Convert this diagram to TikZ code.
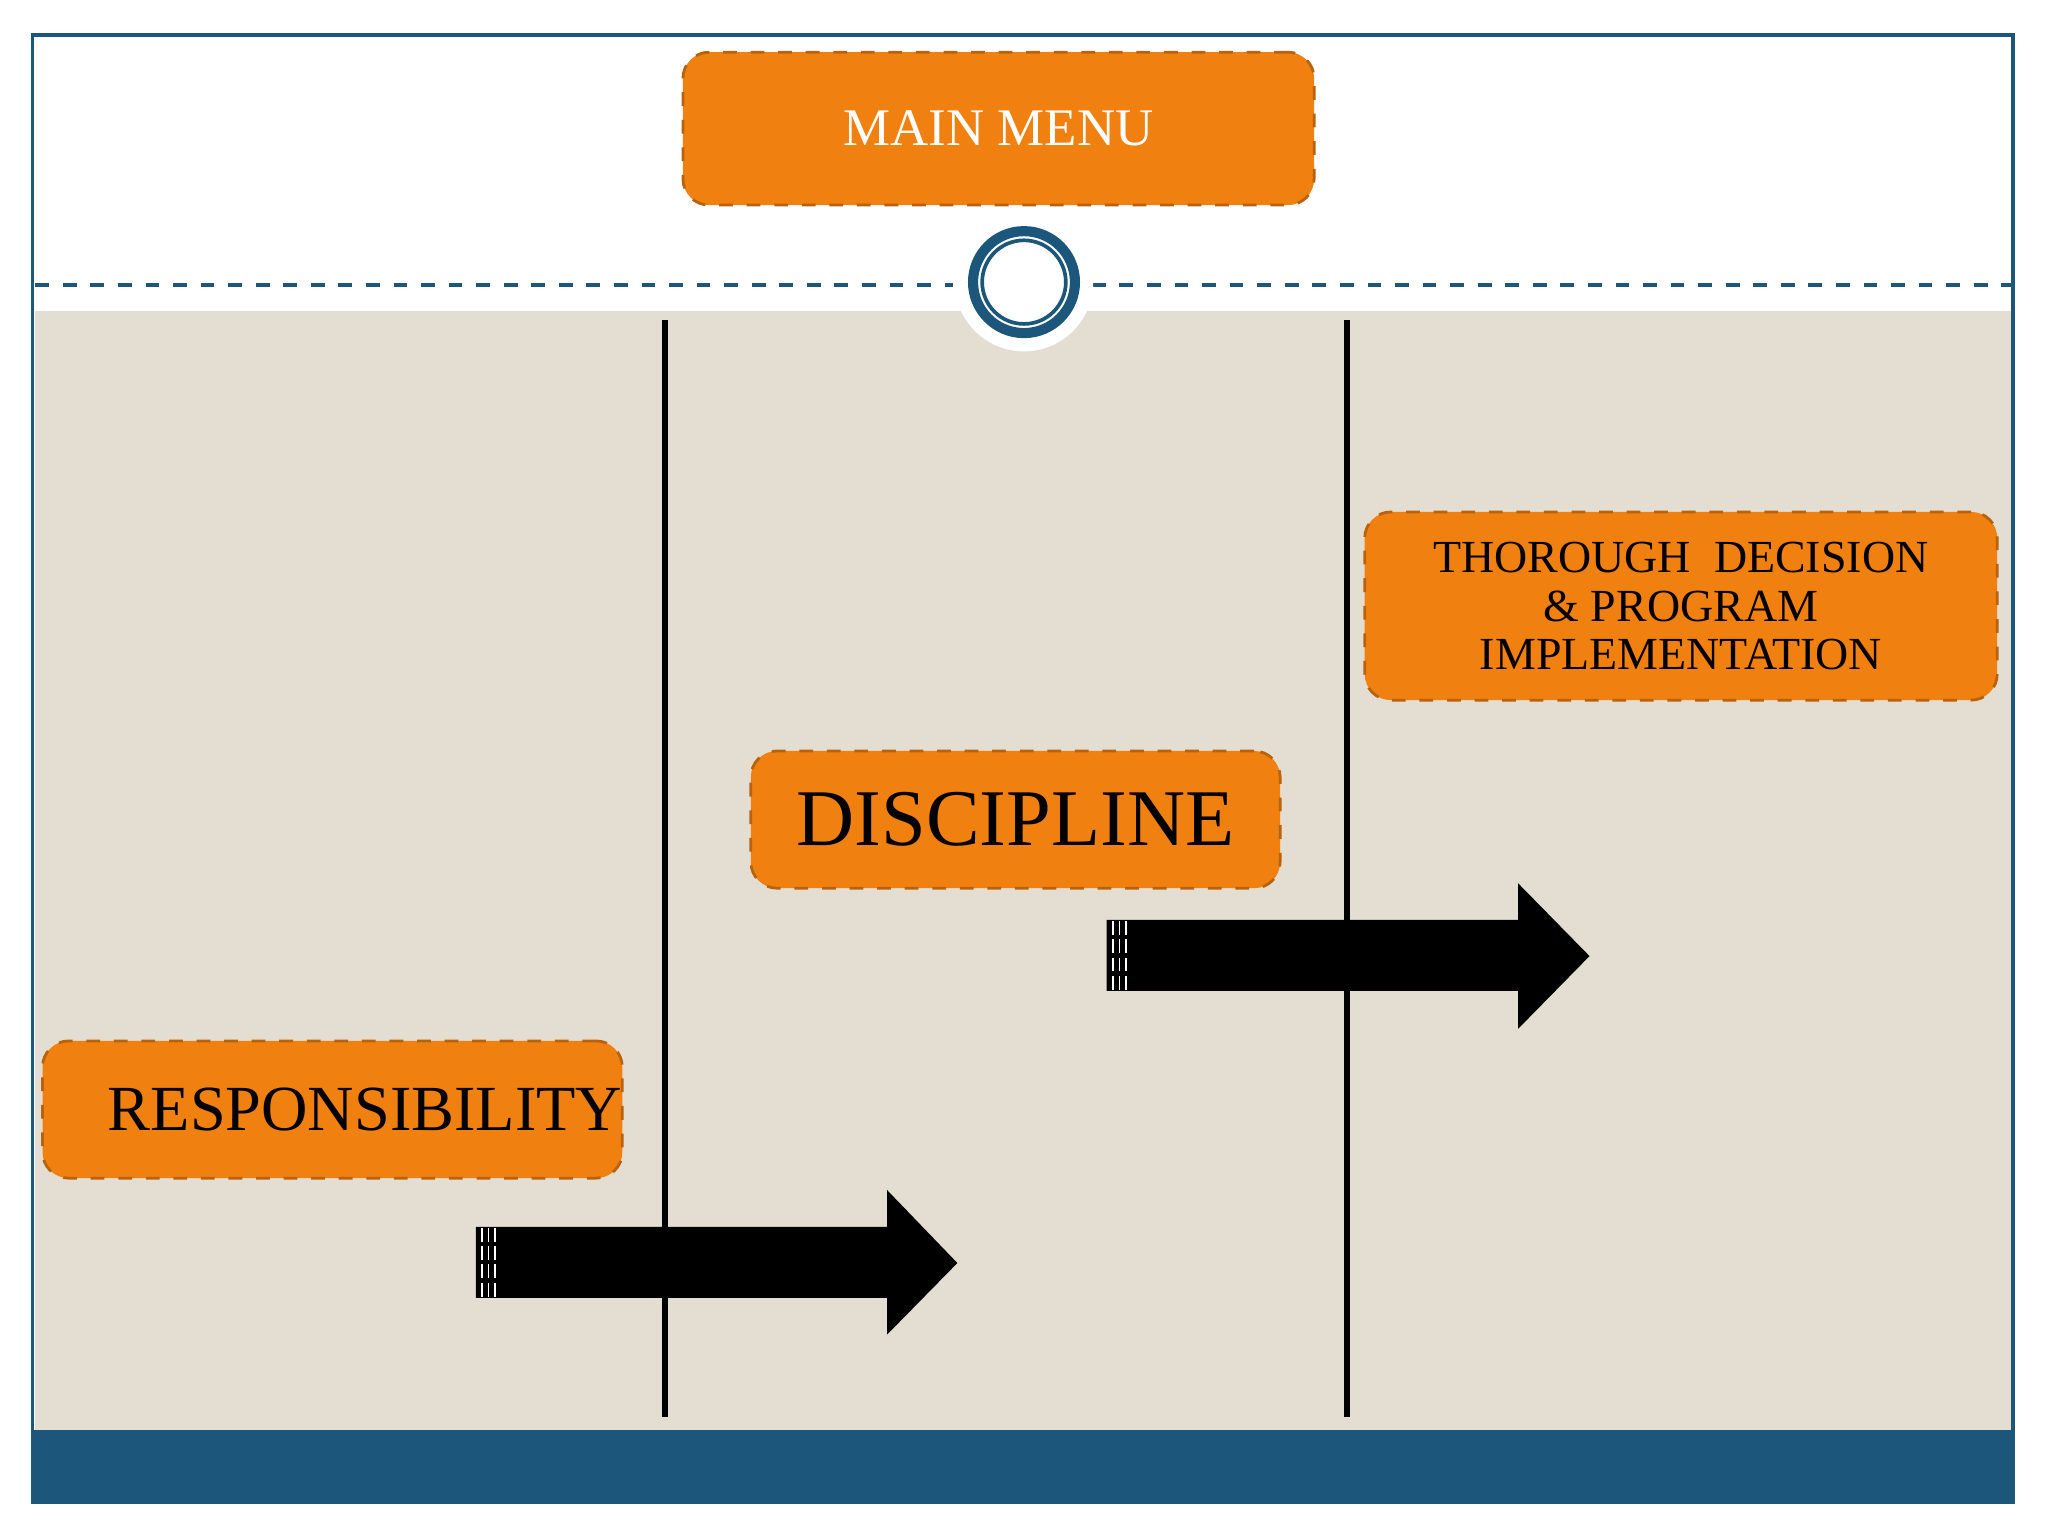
\documentclass[tikz,border=0pt]{standalone}
\usepackage{fontspec}
\setmainfont{Liberation Serif}
\begin{document}
\begin{tikzpicture}[x=0.01cm,y=-0.01cm]
\definecolor{navy}{HTML}{1C577B}
\definecolor{beige}{HTML}{E3DED1}
\definecolor{org}{HTML}{F0800F}
\definecolor{orgd}{HTML}{B8620E}
\tikzset{obox/.style={fill=org,draw=orgd,dashed,rounded corners=0.2cm,line width=0.6pt,inner sep=0pt,align=center},
 vline/.style={line width=1.3pt,black},
 bigarrow/.style={fill=black,draw=black}}
\useasboundingbox (0,0) rectangle (1568,1176);
\fill[white] (0,0) rectangle (1568,1176);
\fill[beige] (27,238) rectangle (1540,1095);
\fill[navy] (25,1095) rectangle (1541,1150);
\draw[navy,line width=0.8pt] (25,27) rectangle (1541,1150);
\coordinate (d1) at (27,218); \coordinate (d2) at (730,218);
\coordinate (d3) at (836,218); \coordinate (d4) at (1540,218);
\draw[navy,dashed,line width=0.8pt] (d1)--(d2) (d3)--(d4);
\node[circle,fill=white,minimum size=1.06cm,inner sep=0pt] (bump) at (784,216) {};
\node[circle,draw=navy,line width=2.2pt,minimum size=0.78cm,inner sep=0pt] (ring) at (784,216) {};
\node[circle,draw=navy,line width=0.8pt,minimum size=0.64cm,inner sep=0pt] (ring2) at (784,216) {};
\coordinate (v1t) at (509,245); \coordinate (v1b) at (509,1085);
\coordinate (v2t) at (1031,245); \coordinate (v2b) at (1031,1085);
\draw[vline] (v1t)--(v1b); \draw[vline] (v2t)--(v2b);
\node[obox,minimum width=4.83cm,minimum height=1.17cm,text=white,font=\fontsize{11.5}{13}\selectfont] (menu) at (764.5,98.5) {MAIN MENU};
\node[obox,minimum width=4.05cm,minimum height=1.05cm,font=\fontsize{17.5}{20}\selectfont] (disc) at (777.5,627.5) {DISCIPLINE};
\node[obox,minimum width=4.05cm,minimum height=1.05cm,font=\fontsize{14}{17}\selectfont] (resp) at (254.5,849.5) {\hspace{0.5cm}RESPONSIBILITY};
\node[obox,minimum width=4.84cm,minimum height=1.44cm,font=\fontsize{10}{10.5}\selectfont] (thor) at (1287,464) {THOROUGH\ \ DECISION\\ \& PROGRAM\\ IMPLEMENTATION};
\fill[bigarrow] (365,940) -- (680,940) -- (680,913) -- (732,967) -- (680,1020) -- (680,993) -- (365,993) -- cycle;
\fill[bigarrow] (848,705) -- (1163,705) -- (1163,678) -- (1216,732) -- (1163,786) -- (1163,758) -- (848,758) -- cycle;
\foreach \x in {369,374,379}{\draw[white,line width=0.3pt,dash pattern=on 3pt off 1pt] (\x,940)--(\x,993);}
\foreach \x in {852,857,862}{\draw[white,line width=0.3pt,dash pattern=on 3pt off 1pt] (\x,705)--(\x,758);}
\end{tikzpicture}
\end{document}
